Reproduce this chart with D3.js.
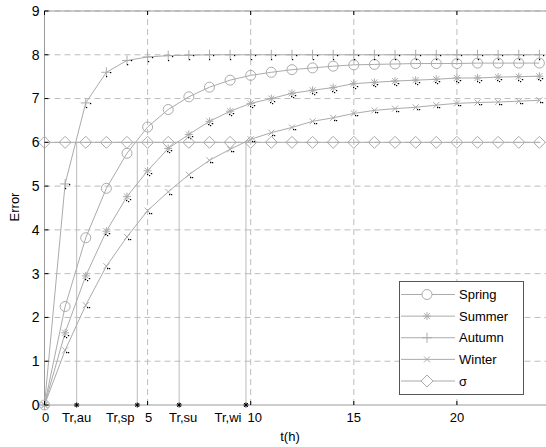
<!DOCTYPE html>
<html>
<head>
<meta charset="utf-8">
<script src="https://cdn.jsdelivr.net/npm/d3@7"></script>
<style>
  body { margin: 0; background: #fff; }
  svg { display: block; font-family: "Liberation Sans", Arial, sans-serif; }
</style>
</head>
<body>
<svg id="chart"></svg>
<script>
const width = 546;
const height = 447;

// hours sampled for every series
const hours = d3.range(0, 25);

const spring = [0, 2.25, 3.82, 4.95, 5.75, 6.35, 6.75, 7.04, 7.26, 7.42, 7.53, 7.6, 7.66, 7.7, 7.74,
  7.77, 7.78, 7.79, 7.8, 7.8, 7.8, 7.81, 7.81, 7.81, 7.81];
const summer = [0, 1.65, 2.95, 3.97, 4.76, 5.35, 5.86, 6.18, 6.48, 6.71, 6.89, 7.0, 7.12, 7.19, 7.25,
  7.34, 7.37, 7.4, 7.42, 7.44, 7.47, 7.47, 7.49, 7.5, 7.51];
const autumn = [0, 5.05, 6.9, 7.6, 7.87, 7.95, 7.98, 7.99, 8, 8, 8, 8, 8, 8, 8,
  8, 8, 8, 8, 8, 8, 8, 8, 8, 8];
const winter = [0, 1.25, 2.28, 3.17, 3.84, 4.44, 4.87, 5.26, 5.59, 5.84, 6.07, 6.22, 6.34, 6.48, 6.56,
  6.66, 6.73, 6.77, 6.8, 6.85, 6.89, 6.91, 6.92, 6.94, 6.96];
const sigma = hours.map(() => 6);

const seriesNames = ["Spring", "Summer", "Autumn", "Winter", "\u03c3"];
const seriesMarks = ["circle", "asterisk", "plus", "cross", "diamond"];
const seriesValues = [spring, summer, autumn, winter, sigma];

// response times marked on the time axis
const trLabels = ["Tr,au", "Tr,sp", "Tr,su", "Tr,wi"];
const trValues = [1.56, 4.5, 6.53, 9.77];
const sigmaLevel = 6;

const xTicks = [0, 5, 10, 15, 20];
const yTicks = d3.range(0, 10);

const margin = { left: 44.5, top: 11, bottom: 42 };
const x = d3.scaleLinear().domain([0, 25]).range([margin.left, margin.left + 25 * 20.62]);
const y = d3.scaleLinear().domain([0, 9]).range([height - margin.bottom, margin.top]);

const svg = d3.select("#chart").attr("width", width).attr("height", height);

const lineColor = "#ababab";
const gridColor = "#bdbdbd";

// grid
const grid = svg.append("g").attr("stroke", gridColor).attr("stroke-dasharray", "6,4");
grid.selectAll("line.gx")
  .data(xTicks.filter(d => d > 0))
  .join("line")
  .attr("x1", d => x(d)).attr("x2", d => x(d))
  .attr("y1", y(0)).attr("y2", y(9));
grid.selectAll("line.gy")
  .data(yTicks.filter(d => d > 0))
  .join("line")
  .attr("class", "gy")
  .attr("x1", x(0)).attr("x2", x(25))
  .attr("y1", d => y(d)).attr("y2", d => y(d));

// axes box
svg.append("rect")
  .attr("x", x(0)).attr("y", y(9))
  .attr("width", x(25) - x(0)).attr("height", y(0) - y(9))
  .attr("fill", "none").attr("stroke", "#9a9a9a");

// response time verticals
svg.append("g").selectAll("line")
  .data(trValues)
  .join("line")
  .attr("x1", d => x(d)).attr("x2", d => x(d))
  .attr("y1", y(0)).attr("y2", y(sigmaLevel))
  .attr("stroke", "#bbbbbb");

// curves
const line = d3.line().x((d, i) => x(hours[i])).y(d => y(d));
svg.append("g").selectAll("path")
  .data(seriesValues)
  .join("path")
  .attr("d", d => line(d))
  .attr("fill", "none")
  .attr("stroke", lineColor)
  .attr("stroke-width", 1);

function markerPath(type) {
  const p = d3.path();
  if (type === "circle") {
    p.moveTo(5, 0); p.arc(0, 0, 5, 0, 2 * Math.PI);
  } else if (type === "diamond") {
    p.moveTo(0, -6); p.lineTo(6, 0); p.lineTo(0, 6); p.lineTo(-6, 0); p.closePath();
  } else if (type === "plus") {
    p.moveTo(-5, 0); p.lineTo(5, 0); p.moveTo(0, -5); p.lineTo(0, 5);
  } else if (type === "cross") {
    p.moveTo(-3, -3); p.lineTo(3, 3); p.moveTo(-3, 3); p.lineTo(3, -3);
  } else if (type === "asterisk") {
    p.moveTo(-4, 0); p.lineTo(4, 0); p.moveTo(0, -4); p.lineTo(0, 4);
    p.moveTo(-3, -3); p.lineTo(3, 3); p.moveTo(-3, 3); p.lineTo(3, -3);
  }
  return p.toString();
}

// the dark specks the original rendering leaves at marker ends
const specks = {
  plus: [[4, 0], [0, 4]],
  asterisk: [[1, 4], [3, 2], [-1, 3]],
  cross: [[1, 2], [3, 2]]
};

seriesValues.forEach((vals, si) => {
  const g = svg.append("g");
  g.selectAll("path")
    .data(vals)
    .join("path")
    .attr("transform", (d, i) => `translate(${x(hours[i])},${y(d)})`)
    .attr("d", markerPath(seriesMarks[si]))
    .attr("fill", "none")
    .attr("stroke", lineColor);
  const sp = specks[seriesMarks[si]];
  if (sp) {
    vals.forEach((v, i) => {
      if (i === 0) return;
      sp.forEach(([dx, dy]) => {
        g.append("rect")
          .attr("x", Math.round(x(hours[i])) + dx)
          .attr("y", Math.round(y(v)) + dy)
          .attr("width", 1.2).attr("height", 1.2)
          .attr("fill", "#000");
      });
    });
  }
});

// stars on the time axis
svg.append("g").selectAll("path")
  .data(trValues)
  .join("path")
  .attr("transform", d => `translate(${x(d)},${y(0)})`)
  .attr("d", "M-2.5,0L2.5,0M0,-2.5L0,2.5M-2,-2L2,2M-2,2L2,-2")
  .attr("stroke", "#000");

// ticks
const ticks = svg.append("g").attr("stroke", "#000");
ticks.selectAll("line.ty")
  .data(yTicks)
  .join("line")
  .attr("x1", x(0)).attr("x2", x(0) + 4)
  .attr("y1", d => y(d)).attr("y2", d => y(d));
ticks.selectAll("line.tx")
  .data(xTicks)
  .join("line")
  .attr("class", "tx")
  .attr("x1", d => x(d)).attr("x2", d => x(d))
  .attr("y1", y(0)).attr("y2", y(0) - 4);
ticks.selectAll("line.tt")
  .data(xTicks)
  .join("line")
  .attr("class", "tt")
  .attr("x1", d => x(d)).attr("x2", d => x(d))
  .attr("y1", y(9)).attr("y2", y(9) + 4);

// tick labels
svg.append("g").selectAll("text")
  .data(yTicks)
  .join("text")
  .attr("x", x(0) - 5)
  .attr("y", d => y(d))
  .attr("dy", "0.35em")
  .attr("text-anchor", "end")
  .attr("font-size", 14)
  .text(d => d);

// label nudges (px) so the crowded time labels sit side by side as in the original
const numShift = [1, 1, 4, 0, 0];
const trShift = [0, -17, 4, -18];
const xLabels = xTicks.map((d, i) => ({ v: d, t: String(d), s: numShift[i] }))
  .concat(trValues.map((d, i) => ({ v: d, t: trLabels[i], s: trShift[i] })));
svg.append("g").selectAll("text")
  .data(xLabels)
  .join("text")
  .attr("x", d => x(d.v) + d.s)
  .attr("y", y(0) + 17)
  .attr("text-anchor", "middle")
  .attr("font-size", 13)
  .text(d => d.t);

svg.append("text")
  .attr("x", 290).attr("y", 441)
  .attr("text-anchor", "middle")
  .attr("font-size", 13)
  .text("t(h)");

svg.append("text")
  .attr("transform", "translate(19,207) rotate(-90)")
  .attr("text-anchor", "middle")
  .attr("font-size", 13)
  .text("Error");

// legend
const legend = svg.append("g");
legend.append("rect")
  .attr("x", 399.5).attr("y", 281.5)
  .attr("width", 124).attr("height", 113)
  .attr("fill", "#fff").attr("stroke", "#555");
const rowY = d3.scalePoint().domain(seriesNames).range([294.5, 381]);
const rows = legend.selectAll("g.row")
  .data(seriesNames)
  .join("g")
  .attr("class", "row")
  .attr("transform", d => `translate(0,${rowY(d)})`);
rows.append("line")
  .attr("x1", 401).attr("x2", 455)
  .attr("stroke", lineColor);
rows.append("path")
  .attr("transform", "translate(427,0)")
  .attr("d", (d, i) => markerPath(seriesMarks[i]))
  .attr("fill", "#fff")
  .attr("stroke", lineColor);
rows.append("text")
  .attr("x", 459)
  .attr("dy", "0.35em")
  .attr("font-size", 13)
  .text(d => d);
</script>
</body>
</html>
